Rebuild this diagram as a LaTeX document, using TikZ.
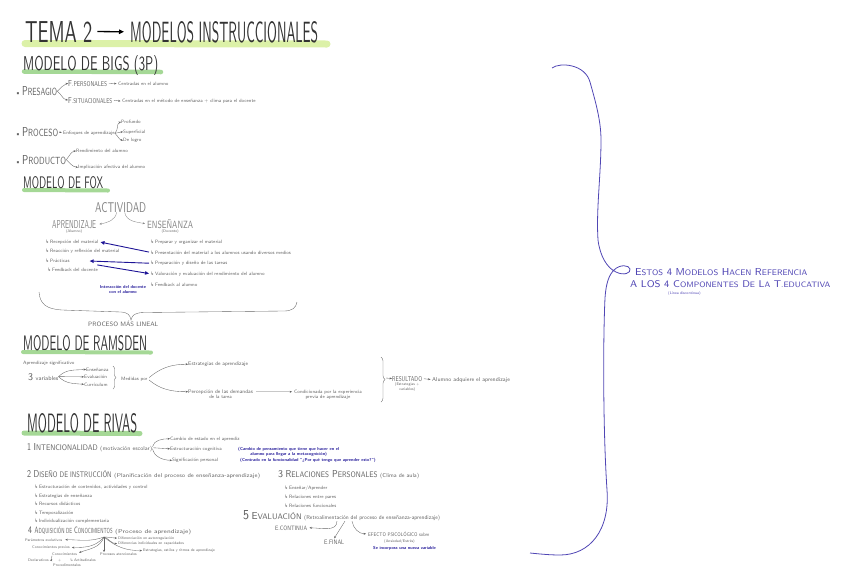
\documentclass[tikz,border=0pt]{standalone}
\usepackage{fontspec}
\usepackage{tikz}
\usetikzlibrary{arrows.meta,positioning,decorations.pathreplacing}
\newfontfamily\dejavu{DejaVu Sans}
\definecolor{pencil}{RGB}{100,100,100}
\definecolor{softgray}{RGB}{135,135,135}
\definecolor{inkblue}{RGB}{30,20,150}
\definecolor{bracevio}{RGB}{80,70,180}
\definecolor{hlyellow}{RGB}{220,241,168}
\definecolor{hlgreen}{RGB}{165,216,150}
\newcommand{\hand}[3]{\resizebox{#1pt}{#2pt}{#3}}
\newcommand{\capini}[2]{#1\scalebox{.8}{#2}}
\newcommand{\lmark}{{\dejavu ↳}\,}
\tikzset{
    note/.style={anchor=base west, inner sep=0pt, text=pencil,
        font=\sffamily\fontsize{4.8}{5.6}\selectfont},
    small/.style={note, font=\sffamily\fontsize{3.8}{4.4}\selectfont},
    capnote/.style={anchor=base west, inner sep=0pt, text=pencil,
        font=\sffamily\fontsize{7}{8}\selectfont},
    heading/.style={anchor=base west, inner sep=0pt, text=black!80, font=\sffamily},
    bluenote/.style={anchor=base west, inner sep=0pt, text=inkblue,
        font=\sffamily\bfseries\fontsize{4.3}{5}\selectfont},
    highlight/.style={line width=#1, line cap=round},
    % lineas finas a lapiz
    grayline/.style={draw=pencil, line width=0.35pt},
    grayarrow/.style={
        grayline,
        -{Stealth[length=2.4pt, width=2pt]}
    },
    bluearrow/.style={
        line width=0.9pt,
        inkblue,
        -{Triangle[length=4pt, width=3.5pt]}
    },
    titlearrow/.style={
        line width=1.3pt,
        black,
        -{Triangle[length=5pt, width=4.5pt]}
    },
    bracket/.style={grayline, decorate, decoration={brace, amplitude=#1}}
}
\begin{document}
\begin{tikzpicture}[x=1pt,y=1pt]
\useasboundingbox (0,0) rectangle (848,-584);

% marcador
\draw[highlight=7pt, hlyellow] (25,-43.5) -- (327,-44);
\draw[highlight=4.5pt, hlgreen] (24,-71.5) -- (161,-72);
\draw[highlight=4pt, hlgreen] (24,-190) -- (108,-190.5);
\draw[highlight=4pt, hlgreen] (23,-352) -- (151,-352.5);
\draw[highlight=5pt, hlgreen] (24,-433) -- (140,-433.5);

% titulo
\node[heading] (tema) at (25,-42) {\hand{67}{21}{TEMA 2}};
\node[heading] (modelos) at (130,-42) {\hand{188}{21}{MODELOS INSTRUCCIONALES}};
\draw[titlearrow, shorten <=5pt, shorten >=6pt] (tema.east) -- (modelos.west);

% modelo de Bigs
\node[heading] (bigs) at (23,-70) {\hand{135}{15}{MODELO DE BIGS (3P)}};
\node[capnote] (presagio) at (15,-95.5) {\textbullet\,\hand{35}{9}{\capini{P}{RESAGIO}}};
\node[capnote] (fper) at (68,-86) {\hand{39}{6}{\capini{F}{.PERSONALES}}};
\node[note] (fper-c) at (118,-85.5) {Centradas en el alumno};
\node[capnote] (fsit) at (68,-103) {\hand{44}{6}{\capini{F}{.SITUACIONALES}}};
\node[note] (fsit-c) at (122,-102.5) {Centradas en el método de enseñanza + clima para el docente};
\draw[grayarrow] (presagio.east) to[out=40,in=200] (fper.west);
\draw[grayarrow] (presagio.east) to[out=-40,in=170] (fsit.west);
\draw[grayarrow, shorten <=1.5pt, shorten >=1.5pt] (fper.east) -- (fper-c.west);
\draw[grayarrow, shorten <=1.5pt, shorten >=1.5pt] (fsit.east) -- (fsit-c.west);

\node[capnote] (proceso) at (15,-136) {\textbullet\,\hand{36}{9}{\capini{P}{ROCESO}}};
\node[note] (enfoques) at (63,-134.5) {Enfoques de aprendizaje};
\node[note] (profundo) at (121,-123.5) {Profundo};
\node[note] (superficial) at (123,-133) {Superficial};
\node[note] (logro) at (123,-141.5) {De logro};
\draw[grayarrow, shorten <=1.5pt, shorten >=1.5pt] (proceso.east) -- (enfoques.west);
\draw[grayarrow] (enfoques.east) to[out=40,in=200] (profundo.west);
\draw[grayarrow] (enfoques.east) -- (superficial.west);
\draw[grayarrow] (enfoques.east) to[out=-40,in=170] (logro.west);

\node[capnote] (producto) at (15,-164) {\textbullet\,\hand{44}{9}{\capini{P}{RODUCTO}}};
\node[note] (rendimiento) at (76,-152.5) {Rendimiento del alumno};
\node[note] (implicacion) at (78,-168.5) {Implicación afectiva del alumno};
\draw[grayarrow] (producto.east) to[out=50,in=190] (rendimiento.west);
\draw[grayarrow] (producto.east) to[out=-45,in=175] (implicacion.west);

% modelo de Fox
\node[heading] (fox) at (23,-188) {\hand{80}{12}{MODELO DE FOX}};
\node[capnote, text=softgray] (actividad) at (95,-212) {\hand{51}{10}{ACTIVIDAD}};
\node[capnote, text=softgray] (aprendizaje) at (52,-228) {\hand{44}{8}{APRENDIZAJE}};
\node[capnote, text=softgray] (ensenanza) at (147,-228) {\hand{46}{9}{ENSEÑANZA}};
\node[small, below=1.5pt of aprendizaje] (alumno) {(Alumno)};
\node[small, below=1.5pt of ensenanza] (docente) {(Docente)};
\draw[grayarrow, draw=softgray] ([xshift=-4pt]actividad.south) to[out=-100,in=10] ([xshift=3pt]aprendizaje.east);
\draw[grayarrow, draw=softgray] ([xshift=4pt]actividad.south) to[out=-80,in=170] ([xshift=-2pt]ensenanza.west);

\node[note] (recepcion) at (45,-243) {\lmark Recepción del material};
\node[note] (reaccion) at (45,-252.5) {\lmark Reacción y reflexión del material};
\node[note] (practicas) at (45,-262) {\lmark Prácticas};
\node[note] (feedback-d) at (47,-271) {\lmark Feedback del docente};
\node[note] (preparar) at (150,-243) {\lmark Preparar y organizar el material};
\node[note] (presentacion) at (150,-254) {\lmark Presentación del material a los alumnos usando diversos medios};
\node[note] (preparacion) at (150,-264.5) {\lmark Preparación y diseño de las tareas};
\node[note] (valoracion) at (150,-275) {\lmark Valoración y evaluación del rendimiento del alumno};
\node[note] (feedback-a) at (150,-286.5) {\lmark Feedback al alumno};
\draw[bluearrow, shorten <=1pt, shorten >=2pt] (presentacion.west) -- (recepcion.east);
\draw[bluearrow, shorten <=1pt, shorten >=20pt] (preparacion.west) -- (practicas.east);
\draw[bluearrow, shorten <=28pt, shorten >=1pt] (practicas.east) -- (valoracion.west);
\node[bluenote, anchor=north, align=center] (interaccion) at (123,-285.5) {Interacción del docente\\con el alumno};
\draw[grayline] (39,-292) .. controls (40,-304) and (46,-309) .. (62,-310)
    -- (121,-312) .. controls (128,-312.5) and (130,-315) .. (131,-320)
    .. controls (132,-315) and (135,-312.5) .. (145,-312.5)
    -- (284,-311) .. controls (292,-311) and (296,-308) .. (297,-302);
\node[capnote] (lineal) at (88,-326) {\hand{70}{5.5}{PROCESO MÁS LINEAL}};

% modelo de Ramsden
\node[heading] (ramsden) at (23,-350) {\hand{124}{15}{MODELO DE RAMSDEN}};
\node[note] (significativo) at (23,-364) {Aprendizaje significativo};
\node[capnote] (variables) at (28,-380) {\hand{5}{7}{3} {\fontsize{6}{7}\selectfont variables}};
\node[note] (ensena) at (86,-371) {Enseñanza};
\node[note] (evalua) at (84,-378.5) {Evaluación};
\node[note] (curri) at (84,-386) {Currículum};
\draw[grayarrow] (variables.east) to[out=45,in=185] (ensena.west);
\draw[grayarrow] (variables.east) -- (evalua.west);
\draw[grayarrow] (variables.east) to[out=-45,in=175] (curri.west);
\draw[bracket=3pt] (113,-366) -- (113,-389);
\node[note] (medidas) at (121,-380) {Medidas por};
\node[note, font=\sffamily\fontsize{5.2}{6}\selectfont] (estrategias) at (188,-365.5) {Estrategias de aprendizaje};
\node[note, font=\sffamily\fontsize{5.2}{6}\selectfont] (percepcion) at (188,-393) {Percepción de las demandas};
\node[note, below=1.2pt of percepcion] (tarea) {de la tarea};
\draw[grayarrow, shorten <=2pt] (medidas.east) to[out=40,in=180] (estrategias.west);
\draw[grayarrow, shorten <=2pt] (medidas.east) to[out=-40,in=180] (percepcion.west);
\node[note] (condicionada) at (294,-393) {Condicionada por la experiencia};
\node[note, below=1.2pt of condicionada] (previa) {previa de aprendizaje};
\draw[grayarrow, shorten <=3pt, shorten >=2pt] (percepcion.east) -- (condicionada.west);
\draw[bracket=4pt] (381,-357) -- (381,-402);
\coordinate (cierre) at (386,-378);
\node[capnote] (resultado) at (392,-381) {\hand{30}{5}{RESULTADO}};
\node[small, align=center, below=1.5pt of resultado] (estvar) {(Estrategias +\\variables)};
\node[note, font=\sffamily\fontsize{5.6}{6.4}\selectfont] (adquiere) at (432,-381) {Alumno adquiere el aprendizaje};
\draw[grayarrow] (cierre) -- (resultado.west);
\draw[grayarrow, shorten <=1.5pt, shorten >=1.5pt] (resultado.east) -- (adquiere.west);

% modelo de Rivas
\node[heading] (rivas) at (27,-432) {\hand{110}{19}{MODELO DE RIVAS}};
\node[capnote] (intenc) at (27,-450.5) {\hand{4}{7}{1} \hand{64}{7}{\capini{I}{NTENCIONALIDAD}} \hand{52}{4.2}{(motivación escolar)}};
\node[note] (cambio) at (170,-440) {Cambio de estado en el aprendiz};
\node[note] (estructura) at (170,-450) {Estructuración cognitiva};
\node[note] (significa) at (172,-461.5) {Significación personal};
\draw[grayarrow, shorten <=1pt] (intenc.east) to[out=80,in=180] (cambio.west);
\draw[grayarrow, shorten <=1pt] (intenc.east) -- (estructura.west);
\draw[grayarrow, shorten <=1pt] (intenc.east) to[out=-80,in=180] (significa.west);
\node[bluenote] (cambio-p) at (238,-450) {(Cambio de pensamiento que tiene que hacer en el};
\node[bluenote, below=1pt of cambio-p] (cambio-p2) {alumno para llegar a la metacognición)};
\node[bluenote] (signif-p) at (240,-461.5) {(Centrado en la funcionalidad ``¿Por qué tengo que aprender esto?'')};

\node[capnote] (diseno) at (27,-477) {\hand{4}{7}{2} \hand{78}{7}{\capini{D}{ISEÑO DE INSTRUCCIÓN}} \hand{146}{4.2}{(Planificación del proceso de enseñanza-aprendizaje)}};
\node[note] (contenidos) at (34,-488.5) {\lmark Estructuración de contenidos, actividades y control};
\node[note] (estrat-ens) at (34,-497) {\lmark Estrategias de enseñanza};
\node[note] (recursos) at (34,-505.5) {\lmark Recursos didácticos};
\node[note] (tempo) at (34,-514) {\lmark Temporalización};
\node[note] (individ) at (34,-522) {\lmark Individualización complementaria};

\node[capnote] (relaciones) at (278,-477) {\hand{5}{7}{3} \hand{92}{7}{\capini{R}{ELACIONES} \capini{P}{ERSONALES}} \hand{39}{4.2}{(Clima de aula)}};
\node[note] (ensenar) at (284,-489) {\lmark Enseñar/Aprender};
\node[note] (pares) at (284,-498.5) {\lmark Relaciones entre pares};
\node[note] (funcionales) at (284,-507.5) {\lmark Relaciones funcionales};

\node[capnote] (evaluacion) at (243,-519.5) {\hand{6}{9}{5} \hand{50}{7}{\capini{E}{VALUACIÓN}} \hand{136}{4.2}{(Retroalimentación del proceso de enseñanza-aprendizaje)}};
\node[capnote] (econt) at (275,-530) {\hand{32}{4.5}{E.CONTINUA}};
\node[capnote] (efinal) at (324,-544) {\hand{20}{4.5}{E.FINAL}};
\node[note] (efecto) at (368,-536) {\hand{61}{4.5}{EFECTO PSICOLÓGICO sobre}};
\node[small] (ansiedad) at (384,-542) {(Ansiedad/Estrés)};
\node[bluenote] (variable) at (373,-549) {Se incorpora una nueva variable};
\draw[grayarrow] ([xshift=94pt]evaluacion.south west) to[out=-90,in=0] ([xshift=2pt]econt.east);
\draw[grayarrow] ([xshift=102pt]evaluacion.south west) -- ([yshift=1pt]efinal.north);
\draw[grayarrow] ([xshift=109pt]evaluacion.south west) to[out=-80,in=180] ([xshift=-2pt]efecto.west);

\node[capnote] (adquisicion) at (28,-533.5) {\hand{4}{6.5}{4} \hand{78}{6.5}{\capini{A}{DQUISICIÓN DE} \capini{C}{ONOCIMIENTOS}} \hand{76}{4.2}{(Proceso de aprendizaje)}};
\coordinate (hub) at (104,-537);
\node[small] (parametros) at (25,-541) {Parámetros evolutivos};
\node[small] (previos) at (32,-548.5) {Conocimientos previos};
\node[small] (conoc) at (52,-555.5) {Conocimientos};
\node[small] (declar) at (28,-561.5) {Declarativos};
\node[small] (plus) at (58,-561.5) {+};
\node[small] (proced) at (53,-566.5) {Procedimentales};
\node[small] (actit) at (70,-561.5) {\lmark Actitudinales};
\node[small] (atencion) at (100,-555) {Procesos atencionales};
\node[small] (autorreg) at (118,-539) {Diferenciación en autorregulación};
\node[small] (capacid) at (118,-544.5) {Diferencias individuales en capacidades};
\node[small] (ritmos) at (143,-551.5) {Estrategias, estilos y ritmos de aprendizaje};
\draw[grayarrow] (hub) to[out=200,in=0] ([xshift=3pt]parametros.east);
\draw[grayarrow] (hub) to[out=230,in=0] ([xshift=2pt]previos.east);
\draw[grayarrow] (hub) to[out=250,in=20] ([xshift=2pt]conoc.north east);
\draw[grayarrow] (hub) -- (hub |- atencion.north);
\draw[grayarrow] (hub) to[out=0,in=180] ([xshift=-1pt]autorreg.west);
\draw[grayarrow] (hub) to[out=-20,in=180] ([xshift=-1pt]capacid.west);
\draw[grayarrow] (hub) to[out=-40,in=180] ([xshift=-1pt]ritmos.west);
\draw[grayarrow] (conoc.south west) to[out=-120,in=0] ([xshift=1pt]declar.east);

% llave azul y nota
\draw[bracevio, line width=0.8pt]
    (552,-68) .. controls (560,-62) and (585,-64) .. (590,-82)
    .. controls (595,-100) and (601,-120) .. (601,-140)
    .. controls (601,-175) and (596,-210) .. (598,-240)
    .. controls (600,-256) and (607,-268) .. (616,-272)
    .. controls (624,-276) and (631,-273) .. (630,-269)
    .. controls (629,-265) and (620,-264) .. (614,-270)
    .. controls (609,-275) and (606,-283) .. (605,-298)
    .. controls (603,-340) and (603,-430) .. (607,-490)
    .. controls (610,-530) and (590,-555) .. (560,-555)
    .. controls (550,-555) and (540,-554) .. (530,-553);
\node[capnote, text=bracevio] (nota1) at (635,-275) {\hand{172}{7}{\capini{E}{STOS} 4 \capini{M}{ODELOS} \capini{H}{ACEN} \capini{R}{EFERENCIA}}};
\node[capnote, text=bracevio] (nota2) at (630,-287) {\hand{200}{7}{A LOS 4 \capini{C}{OMPONENTES} \capini{D}{E} \capini{L}{A} \capini{T}{.EDUCATIVA}}};
\node[small, text=bracevio] (nota3) at (668,-294) {(Línea discontinua)};
\end{tikzpicture}
\end{document}
